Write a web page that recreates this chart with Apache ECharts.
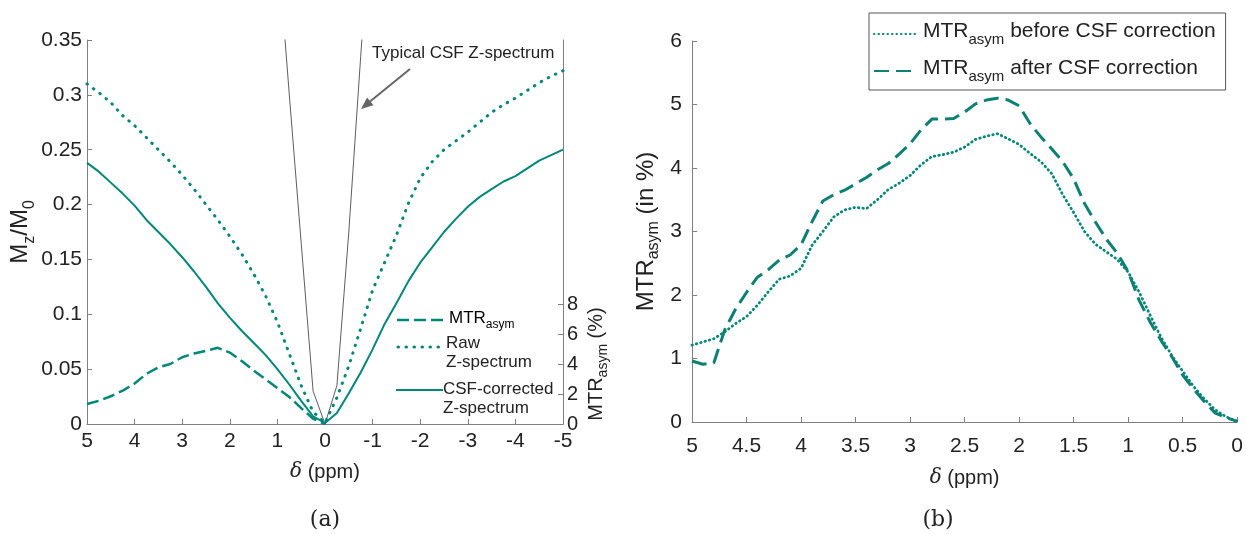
<!DOCTYPE html>
<html><head><meta charset="utf-8">
<script src="https://cdn.jsdelivr.net/npm/echarts@6/dist/echarts.min.js"></script>
<style>html,body{margin:0;padding:0;background:#fff}#c{width:1246px;height:534px}</style>
</head><body><div id="c"></div>
<script>
// ---------- Panel (a) data ----------
const ppmA = [5,4.75,4.5,4.25,4,3.75,3.5,3.25,3,2.75,2.5,2.25,2,1.75,1.5,1.25,1,0.75,0.5,0.25,0,-0.25,-0.5,-0.75,-1,-1.25,-1.5,-1.75,-2,-2.25,-2.5,-2.75,-3,-3.25,-3.5,-3.75,-4,-4.25,-4.5,-4.75,-5];
const rawZ = [0.310,0.302,0.293,0.281,0.272,0.261,0.250,0.239,0.227,0.214,0.200,0.186,0.171,0.155,0.137,0.117,0.093,0.064,0.035,0.011,0.001,0.024,0.053,0.087,0.122,0.147,0.172,0.201,0.224,0.239,0.250,0.258,0.266,0.275,0.284,0.291,0.297,0.304,0.311,0.317,0.322];
const csfZ = [0.238,0.230,0.220,0.210,0.199,0.186,0.175,0.164,0.152,0.139,0.125,0.110,0.097,0.085,0.074,0.063,0.050,0.036,0.021,0.007,0.001,0.010,0.028,0.047,0.068,0.091,0.110,0.130,0.147,0.161,0.175,0.187,0.198,0.207,0.214,0.221,0.226,0.233,0.240,0.245,0.250];
const ppmMtrA = [5,4.75,4.5,4.25,4,3.75,3.5,3.25,3,2.75,2.5,2.25,2,1.75,1.5,1.25,1,0.75,0.5,0.25,0];
const mtrA = [1.33,1.55,1.85,2.22,2.70,3.35,3.78,4.00,4.45,4.70,4.88,5.08,4.76,4.20,3.57,2.98,2.40,1.80,1.06,0.35,0.0];
const ppmCsfTypical = [1,0.75,0.5,0.25,0,-0.25,-0.5,-0.75,-1];
const csfTypical = [0.44,0.30,0.165,0.03,0.0,0.035,0.175,0.335,0.49];

// ---------- Panel (b) data ----------
const ppmB = [5,4.9,4.8,4.7,4.6,4.5,4.4,4.3,4.2,4.1,4,3.9,3.8,3.7,3.6,3.5,3.4,3.3,3.2,3.1,3,2.9,2.8,2.7,2.6,2.5,2.4,2.3,2.2,2.1,2,1.9,1.8,1.7,1.6,1.5,1.4,1.3,1.2,1.1,1,0.9,0.8,0.7,0.6,0.5,0.4,0.3,0.2,0.1,0];
const mtrBefore = [1.21,1.26,1.31,1.42,1.55,1.66,1.84,2.05,2.25,2.30,2.42,2.78,3.00,3.23,3.34,3.38,3.36,3.50,3.66,3.76,3.88,4.05,4.18,4.21,4.25,4.33,4.45,4.50,4.54,4.46,4.37,4.23,4.10,3.91,3.58,3.30,3.00,2.80,2.68,2.56,2.36,2.05,1.69,1.34,1.05,0.80,0.56,0.36,0.19,0.08,0.01];
const mtrAfter = [0.96,0.91,0.93,1.45,1.78,2.04,2.28,2.40,2.55,2.63,2.79,3.15,3.48,3.58,3.65,3.75,3.85,3.97,4.07,4.22,4.38,4.60,4.77,4.77,4.78,4.88,5.01,5.07,5.10,5.07,4.98,4.70,4.49,4.30,4.10,3.83,3.44,3.15,2.88,2.66,2.37,1.92,1.58,1.29,1.03,0.74,0.52,0.32,0.14,0.07,0.01];

const zip = (xs, ys) => xs.map((x, i) => [x, ys[i]]);
const TEAL = '#00877a';
const TEAL2 = '#0b8073';
const AX = '#808080';
const TXT = '#222';
const SANS = '"Liberation Sans", Arial, sans-serif';

function richSub(main, sub, padTop) {
  return {
    m: {fontSize: main, fontFamily: SANS, color: TXT, verticalAlign: 'top'},
    s: {fontSize: sub, fontFamily: SANS, color: TXT, verticalAlign: 'top', padding: [padTop, 0, 0, 0]},
    d: {fontSize: main, fontFamily: '"DejaVu Serif", serif', fontStyle: 'italic', color: TXT, verticalAlign: 'top'}
  };
}

const chart = echarts.init(document.getElementById('c'), null, {renderer: 'canvas'});

const axisCommon = {
  axisLine: {show: true, onZero: false, lineStyle: {color: AX, width: 1}},
  axisTick: {show: true, inside: true, length: 5, lineStyle: {color: AX}},
  splitLine: {show: false}
};

const option = {
  backgroundColor: '#fff',
  animation: false,
  grid: [
    {left: 87, top: 40, width: 476, height: 384},
    {left: 87, top: 304, width: 476, height: 120},
    {left: 692, top: 41, width: 548, height: 381}
  ],
  xAxis: [
    Object.assign({}, axisCommon, {
      gridIndex: 0, type: 'value', min: -5, max: 5, interval: 1, inverse: true,
      axisLabel: {fontSize: 21, fontFamily: SANS, color: TXT, margin: 7},
      name: '{d|δ}{m| (ppm)}', nameLocation: 'middle', nameGap: 38,
      nameTextStyle: {rich: richSub(20, 14, 10)}
    }),
    {gridIndex: 1, type: 'value', min: -5, max: 5, inverse: true, show: false},
    Object.assign({}, axisCommon, {
      gridIndex: 2, type: 'value', min: 0, max: 5, interval: 0.5, inverse: true,
      axisLabel: {fontSize: 21, fontFamily: SANS, color: TXT, margin: 14},
      name: '{d|δ}{m| (ppm)}', nameLocation: 'middle', nameGap: 46,
      nameTextStyle: {rich: richSub(20, 14, 10)}
    })
  ],
  yAxis: [
    Object.assign({}, axisCommon, {
      gridIndex: 0, type: 'value', min: 0, max: 0.35, interval: 0.05,
      axisLabel: {fontSize: 21, fontFamily: SANS, color: TXT, margin: 5},
      name: '{m|M}{s|z}{m|/M}{s|0}', nameLocation: 'middle', nameGap: 46, nameRotate: 90,
      nameTextStyle: {rich: richSub(24, 16, 13)}
    }),
    {
      gridIndex: 0, type: 'value', min: 0, max: 0.35, position: 'right',
      axisLine: {show: true, onZero: false, lineStyle: {color: AX, width: 1}},
      axisTick: {show: false}, axisLabel: {show: false}, splitLine: {show: false}
    },
    Object.assign({}, axisCommon, {
      gridIndex: 1, type: 'value', min: 0, max: 8, interval: 2, position: 'right',
      axisLabel: {fontSize: 20, fontFamily: SANS, color: TXT, margin: 4},
      name: '{m|MTR}{s|asym}{m| (%)}', nameLocation: 'middle', nameGap: 23, nameRotate: 90,
      nameTextStyle: {rich: richSub(20, 14, 10)}
    }),
    Object.assign({}, axisCommon, {
      gridIndex: 2, type: 'value', min: 0, max: 6, interval: 1,
      axisLabel: {fontSize: 21, fontFamily: SANS, color: TXT, margin: 10},
      name: '{m|MTR}{s|asym}{m| (in %)}', nameLocation: 'middle', nameGap: 30, nameRotate: 90,
      nameTextStyle: {rich: richSub(24, 16, 12)}
    })
  ],
  legend: {
    data: ['before', 'after'],
    left: 869, top: 13, orient: 'vertical',
    itemWidth: 44, itemHeight: 12, itemGap: 11,
    itemStyle: {opacity: 0, borderWidth: 0},
    borderColor: '#555', borderWidth: 1, borderRadius: 0,
    padding: [8, 10, 6, 4],
    formatter: n => n === 'before'
      ? '{m|MTR}{s|asym}{m| before CSF correction}'
      : '{m|MTR}{s|asym}{m| after CSF correction}',
    textStyle: {rich: richSub(21, 15, 11)}
  },
  series: [
    {
      name: 'typical', type: 'line', xAxisIndex: 0, yAxisIndex: 0,
      data: zip(ppmCsfTypical, csfTypical), showSymbol: false, symbol: 'none',
      lineStyle: {color: '#333', width: 0.8}, clip: true, z: 3
    },
    {
      name: 'raw', type: 'line', xAxisIndex: 0, yAxisIndex: 0,
      data: zip(ppmA, rawZ), symbol: 'none',
      lineStyle: {color: TEAL, width: 3, type: [0.5, 7.5], cap: 'round'}
    },
    {
      name: 'csf', type: 'line', xAxisIndex: 0, yAxisIndex: 0,
      data: zip(ppmA, csfZ), symbol: 'none',
      lineStyle: {color: TEAL, width: 2}
    },
    {
      name: 'mtrA', type: 'line', xAxisIndex: 1, yAxisIndex: 2,
      data: zip(ppmMtrA, mtrA), symbol: 'none',
      lineStyle: {color: TEAL, width: 2.5, type: [12, 5]}
    },
    {
      name: 'before', type: 'line', xAxisIndex: 2, yAxisIndex: 3,
      data: zip(ppmB, mtrBefore), symbol: 'none', itemStyle: {color: TEAL},
      lineStyle: {color: TEAL, width: 2.8, type: [0.5, 4], cap: 'round'}
    },
    {
      name: 'after', type: 'line', xAxisIndex: 2, yAxisIndex: 3,
      data: zip(ppmB, mtrAfter), symbol: 'none', itemStyle: {color: TEAL2},
      lineStyle: {color: TEAL2, width: 3, type: [15, 7]}
    }
  ],
  graphic: [
    {type: 'text', left: 372, top: 45, style: {text: 'Typical CSF Z-spectrum', font: '17px ' + SANS, fill: TXT}},
    {type: 'line', shape: {x1: 410, y1: 69, x2: 370, y2: 101.5}, style: {stroke: '#666', lineWidth: 2}},
    {type: 'polygon', shape: {points: [[361, 109], [373.5, 105.3], [367.1, 97.5]]}, style: {fill: '#666'}},
    // panel (a) legend
    {type: 'line', shape: {x1: 397, y1: 320, x2: 443, y2: 320}, style: {stroke: TEAL, lineWidth: 2.5, lineDash: [12, 5]}},
    {type: 'text', x: 449, y: 310, style: {text: '{m|MTR}{s|asym}', rich: richSub(17, 12, 9)}},
    {type: 'line', shape: {x1: 398, y1: 347, x2: 443, y2: 347}, style: {stroke: TEAL, lineWidth: 3, lineDash: [0.5, 7.5], lineCap: 'round'}},
    {type: 'text', x: 446, y: 334, style: {text: 'Raw\nZ-spectrum', font: '17px ' + SANS, fill: TXT, lineHeight: 19}},
    {type: 'line', shape: {x1: 396, y1: 390, x2: 443, y2: 390}, style: {stroke: TEAL, lineWidth: 2}},
    {type: 'text', x: 443, y: 380, style: {text: 'CSF-corrected\nZ-spectrum', font: '17px ' + SANS, fill: TXT, lineHeight: 19}},
    // panel labels
    {type: 'text', x: 325, y: 520, style: {text: '(a)', font: '22px "DejaVu Serif", serif', fill: TXT, align: 'center', verticalAlign: 'middle'}},
    {type: 'text', x: 938, y: 520, style: {text: '(b)', font: '22px "DejaVu Serif", serif', fill: TXT, align: 'center', verticalAlign: 'middle'}}
  ]
};
chart.setOption(option);
</script>
</body></html>
